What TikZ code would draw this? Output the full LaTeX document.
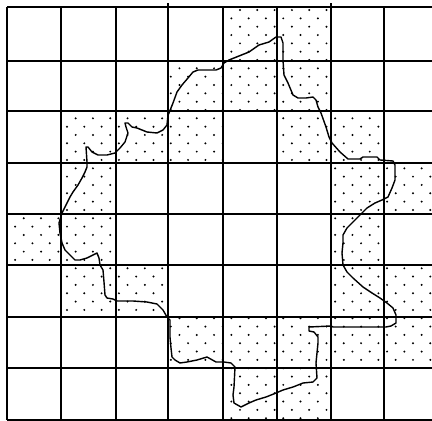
\documentclass[tikz,border=0pt]{standalone}
\tikzset{
  gridline/.style={line width=1.8pt, black},
  outline/.style={line width=1.4pt, black, line join=round, line cap=round},
  dotmark/.style={fill=black}
}
\begin{document}
\begin{tikzpicture}[x=1pt,y=-1pt]
\useasboundingbox (0,0) rectangle (432,421);
\clip (0,0) rectangle (432,421);
\fill[white] (0,0) rectangle (432,421);
% dotted cells
\begin{scope}
\clip \foreach \xa/\ya/\xb/\yb in {
 223/7/277/61, 277/7/331/61,
 168/61/223/111, 223/61/277/111, 277/61/331/111,
 61/111/116/163, 116/111/168/163, 168/111/223/163, 277/111/331/163, 331/111/384/163,
 61/163/116/214, 331/163/384/214, 384/163/434/214,
 7/214/61/265, 61/214/116/265, 331/214/384/265,
 61/265/116/317, 116/265/168/317, 331/265/384/317, 384/265/434/317,
 168/317/223/368, 223/317/277/368, 277/317/331/368, 331/317/384/368, 384/317/434/368,
 223/368/277/420, 277/368/331/420} {(\xa,\ya) rectangle (\xb,\yb)};
\foreach \j in {0,...,51} {
  \pgfmathsetmacro\off{6.45+8.65*mod(\j,2)}
  \foreach \i in {0,...,25} {
    \fill[dotmark] ({\off+17.3*\i},{1.7+8.33*\j}) circle (1.1);
  }
}
\end{scope}
% grid
\foreach \x in {7,61,116,223,277,384} {\draw[gridline] (\x,7) -- (\x,420);}
\foreach \x in {168,331} {\draw[gridline] (\x,3) -- (\x,420);}
\foreach \y in {7,61,111,163,214,265,317,368,420} {\draw[gridline] (7,\y) -- (434,\y);}
\draw[gridline] (434,7) -- (434,420);
% outline curve
\draw[outline] (169,113) -- (173,103) -- (177,92) -- (182,85) -- (188,78) -- (193,72) -- (198,70) -- (210,70) -- (216,70) -- (221,68) -- (224,63) -- (229,60) -- (239,56) -- (249,52) -- (259,45) -- (269,42) -- (276,37) -- (281,37) -- (283,43) -- (283,60) -- (284,75) -- (288,83) -- (293,95) -- (298,98) -- (306,98) -- (313,97) -- (316,100) -- (318,107) -- (321,113) -- (326,127) -- (329,137) -- (332,143) -- (340,152) -- (348,159) -- (360,159) -- (363,157) -- (377,157) -- (380,160) -- (393,161) -- (395,165) -- (395,180) -- (392,188) -- (388,197) -- (382,200) -- (375,203) -- (367,208) -- (362,213) -- (355,220) -- (347,228) -- (343,235) -- (343,243) -- (342,253) -- (343,265) -- (347,272) -- (353,278) -- (363,287) -- (372,293) -- (380,298) -- (387,303) -- (393,308) -- (396,315) -- (396,323) -- (391,326) -- (386,327) -- (368,327) -- (333,327) -- (331,326) -- (309,327) -- (309,331) -- (314,332) -- (318,337) -- (318,343) -- (316,363) -- (317,378) -- (313,382) -- (303,383) -- (293,387) -- (283,390) -- (276,393) -- (266,397) -- (256,400) -- (249,403) -- (241,407) -- (234,403) -- (233,395) -- (234,387) -- (235,367) -- (231,363) -- (224,362) -- (216,362) -- (207,357) -- (197,360) -- (187,362) -- (180,363) -- (175,360) -- (172,357) -- (171,348) -- (170,337) -- (170,320) -- (167,317) -- (163,310) -- (160,307) -- (157,304) -- (147,302) -- (133,301) -- (117,301) -- (113,299) -- (107,298) -- (105,295) -- (104,282) -- (103,270) -- (100,265) -- (99,258) -- (97,253) -- (93,255) -- (87,258) -- (80,260) -- (75,260) -- (70,255) -- (65,250) -- (62,243) -- (60,233) -- (59,223) -- (62,213) -- (67,203) -- (70,197) -- (73,192) -- (78,185) -- (82,178) -- (85,172) -- (87,167) -- (87,162) -- (86,147) -- (88,147) -- (92,152) -- (98,155) -- (107,155) -- (115,153) -- (120,148) -- (125,142) -- (128,133) -- (126,127) -- (125,123) -- (128,123) -- (132,127) -- (137,128) -- (147,132) -- (157,133) -- (163,130) -- (167,125) -- (168,115) -- cycle;
\end{tikzpicture}
\end{document}
